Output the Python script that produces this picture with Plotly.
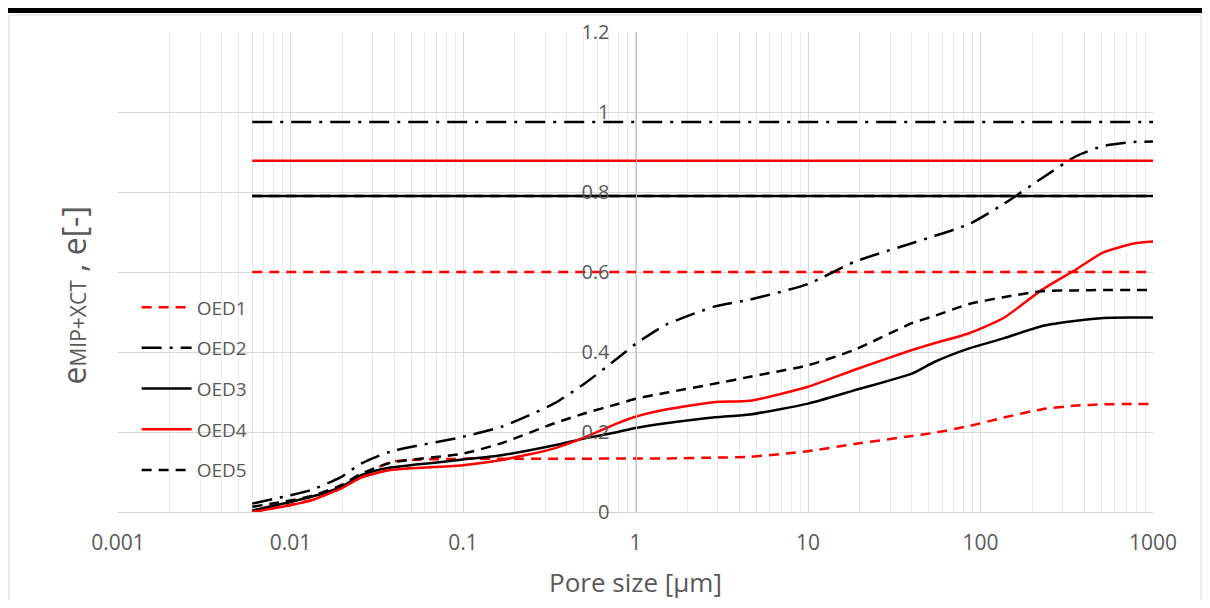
import plotly.graph_objects as go

pore_size = [0.006, 0.01, 0.0132, 0.0197, 0.0257, 0.038, 0.1, 0.167, 0.34, 0.51, 0.79, 1,
             1.5, 2.9, 4.6, 10, 18.5, 40, 54, 86, 136, 228, 360, 515, 776, 1000]

oed1 = [0.0, 0.018, 0.03, 0.06, 0.088, 0.125, 0.133, 0.133, 0.133, 0.133, 0.134, 0.134,
        0.134, 0.136, 0.138, 0.152, 0.17, 0.19, 0.198, 0.215, 0.236, 0.257, 0.266, 0.269, 0.27, 0.27]
oed2 = [0.021, 0.042, 0.055, 0.088, 0.121, 0.151, 0.188, 0.213, 0.272, 0.322, 0.385, 0.42,
        0.468, 0.514, 0.531, 0.57, 0.625, 0.672, 0.69, 0.72, 0.77, 0.835, 0.89, 0.915, 0.925, 0.926]
oed3 = [0.004, 0.025, 0.038, 0.063, 0.092, 0.111, 0.131, 0.142, 0.167, 0.184, 0.2, 0.21,
        0.222, 0.237, 0.244, 0.271, 0.304, 0.346, 0.375, 0.409, 0.434, 0.465, 0.478, 0.485, 0.486, 0.486]
oed4 = [0.0, 0.017, 0.029, 0.059, 0.086, 0.105, 0.117, 0.13, 0.159, 0.187, 0.222, 0.238,
        0.256, 0.275, 0.278, 0.313, 0.355, 0.405, 0.422, 0.447, 0.485, 0.556, 0.607, 0.649, 0.671, 0.676]
oed5 = [0.013, 0.029, 0.04, 0.067, 0.096, 0.123, 0.146, 0.172, 0.222, 0.247, 0.27, 0.283,
        0.298, 0.321, 0.338, 0.367, 0.405, 0.472, 0.49, 0.52, 0.537, 0.552, 0.554, 0.555, 0.555, 0.555]

# void ratio e (horizontal reference lines)
ref_names = ["OED1", "OED2", "OED3", "OED4", "OED5"]
ref_e = [0.60, 0.975, 0.79, 0.878, 0.79]
ref_x = [0.006, 1000]

x_tickvals = [0.001, 0.01, 0.1, 1, 10, 100, 1000]
x_ticktext = ["0.001", "0.01", "0.1", "1", "10", "100", "1000"]
y_tickvals = [0, 0.2, 0.4, 0.6, 0.8, 1.0, 1.2]
y_ticktext = ["0", "0.2", "0.4", "0.6", "0.8", "1", "1.2"]

series = [oed1, oed2, oed3, oed4, oed5]
colors = ["#ff0000", "#000000", "#000000", "#ff0000", "#000000"]
dashes = ["10px,7px", "20px,8px,3px,8px", "solid", "solid", "10px,7px"]

fig = go.Figure()
for name, e, ys, c, d in zip(ref_names, ref_e, series, colors, dashes):
    fig.add_trace(go.Scatter(
        x=pore_size, y=ys, mode="lines", name=name, legendgroup=name,
        line=dict(color=c, width=2.5, dash=d, shape="spline", smoothing=0.6),
    ))
    fig.add_trace(go.Scatter(
        x=ref_x, y=[e, e], mode="lines", name=name, legendgroup=name, showlegend=False,
        line=dict(color=c, width=2.5, dash=d),
    ))

font_family = "Open Sans, Liberation Sans, sans-serif"
grey = "#595959"

fig.update_layout(
    width=1194, height=592,
    margin=dict(l=110, r=49, t=24, b=88),
    paper_bgcolor="white", plot_bgcolor="white",
    font=dict(family=font_family, color=grey),
    legend=dict(
        x=0.018, y=0.466, xanchor="left", yanchor="top",
        bgcolor="rgba(0,0,0,0)", font=dict(size=19, color=grey),
        traceorder="grouped", tracegroupgap=13, itemwidth=50,
    ),
    xaxis=dict(
        type="log", range=[-3, 3], automargin=False,
        tickvals=x_tickvals, ticktext=x_ticktext,
        tickfont=dict(size=21, color=grey),
        showgrid=True, gridcolor="#d9d9d9", gridwidth=1,
        minor=dict(dtick="D1", showgrid=True, gridcolor="#ebebeb", gridwidth=1),
        showline=True, linecolor="#d0d0d0", linewidth=1,
        ticks="", ticklabelstandoff=12, zeroline=False,
        title=dict(text="Pore size [μm]", font=dict(size=26, color=grey), standoff=22),
    ),
    yaxis=dict(
        range=[0, 1.2], tickvals=y_tickvals, ticktext=y_ticktext,
        anchor="free", position=0.5, automargin=False,
        tickfont=dict(size=20, color=grey),
        showgrid=True, gridcolor="#d9d9d9", gridwidth=1,
        showline=True, linecolor="#c8c8c8", linewidth=1,
        ticks="", ticklabelstandoff=22, zeroline=False,
    ),
    annotations=[dict(
        text="e<span style='font-size:21px'>MIP+XCT</span> , e[-]", textangle=-90,
        xref="paper", yref="paper", x=-0.043, y=0.452,
        xanchor="center", yanchor="middle", showarrow=False,
        font=dict(size=32, color=grey, family=font_family),
    )],
    shapes=[
        dict(type="rect", xref="paper", yref="paper", x0=-0.1053, x1=1.0464, y0=-0.3, y1=1.0354,
             line=dict(color="#d9d9d9", width=1), fillcolor="rgba(0,0,0,0)", layer="below"),
        dict(type="rect", xref="paper", yref="paper", x0=-0.12, x1=1.06, y0=1.0396, y1=1.052,
             line=dict(width=0), fillcolor="#000000"),
    ],
)

fig.write_html("out.html")
